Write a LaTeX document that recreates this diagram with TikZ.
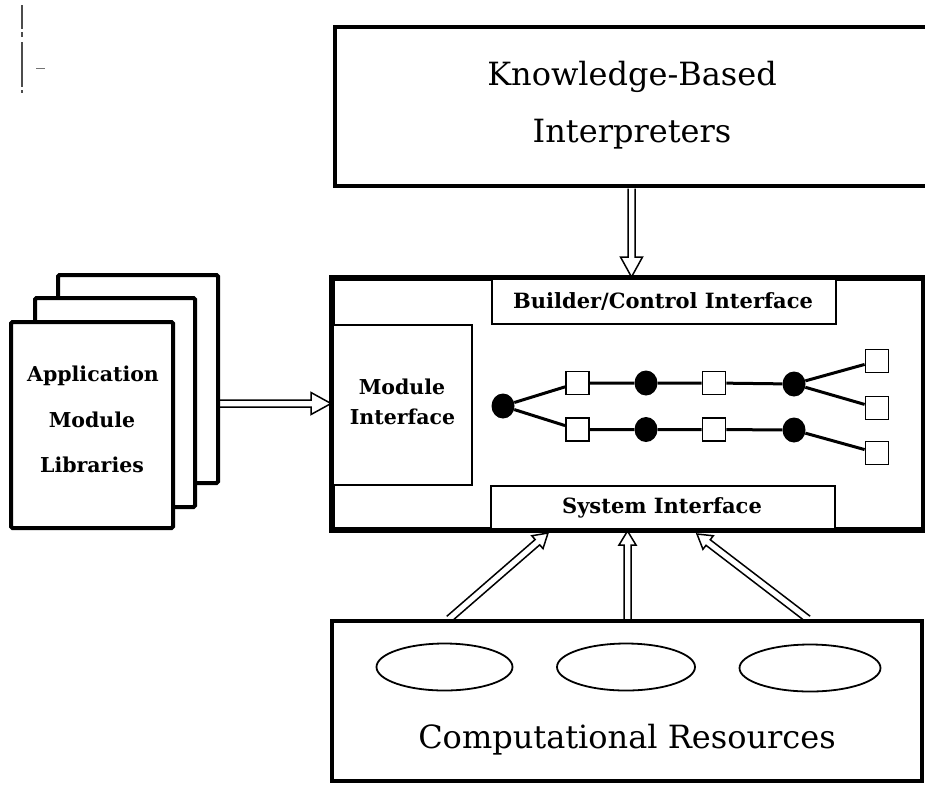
\documentclass[tikz,border=0pt]{standalone}
\usepackage{fontspec}
\setmainfont{DejaVu Serif}
\usetikzlibrary{calc,shapes.geometric}

\tikzset{
  heavybox/.style={draw, line width=4pt, fill=white, inner sep=0pt, rectangle},
  page/.style={heavybox, rounded corners=1.5pt},
  thinbox/.style={draw, line width=1.8pt, fill=white, inner sep=0pt, rectangle},
  resource/.style={draw, ellipse, line width=1.8pt, inner sep=0pt,
                   minimum width=138pt, minimum height=47pt},
  bigtext/.style={font=\fontsize{32}{38}\selectfont, inner sep=0pt, anchor=base},
  boldtext/.style={font=\bfseries\fontsize{20.5}{24}\selectfont, inner sep=0pt, anchor=base},
  bandtext/.style={font=\bfseries\fontsize{21}{25}\selectfont, inner sep=0pt, anchor=base},
  dot/.style={ellipse, fill=black, inner sep=0pt, minimum width=23pt, minimum height=25pt},
  sq/.style={draw, fill=white, line width=1.8pt, inner sep=0pt, minimum size=23pt},
  link/.style={line width=3pt},
  arrowline/.style={line width=1.5pt, line join=miter},
}

% hollow block arrow: #1 tail, #2 tip, #3 head half-width, #4 head length
\newcommand\blockarrow[4]{%
  \coordinate (hb) at ($(#2)!#4!(#1)$);
  \draw[arrowline]
    ($(#1)!3.5pt!90:(#2)$) -- ($(hb)!3.5pt!-90:(#1)$) -- ($(hb)!#3!-90:(#1)$)
    -- (#2) -- ($(hb)!#3!90:(#1)$) -- ($(hb)!3.5pt!90:(#1)$)
    -- ($(#1)!3.5pt!-90:(#2)$);
}

\begin{document}
\begin{tikzpicture}[x=1pt, y=-1pt]
\useasboundingbox (0,0) rectangle (925,785);

% margin marks
\draw[line width=1.3pt, black!70, dash pattern=on 24pt off 3pt on 5pt off 5pt on 45pt off 3pt] (22,5) -- (22,93);
\draw[line width=1pt, black!55] (36,68) -- (45,68);

% knowledge-based interpreters (runs off the right edge)
\node[heavybox, minimum width=605pt, minimum height=159pt] (kb) at (637.5,106.5) {};
\node[bigtext] (kbA) at (632,85) {Knowledge-Based};
\node[bigtext] (kbB) at (632,142) {Interpreters};

% stacked library pages
\node[page, minimum width=160pt, minimum height=208pt] (back) at (138,379) {};
\node[page, minimum width=160pt, minimum height=209pt] (midp) at (115,402.5) {};
\node[page, minimum width=162pt, minimum height=206pt] (front) at (92,425) {};
\node[boldtext] (libA) at (93,381) {Application};
\node[boldtext] (libB) at (92,427) {Module};
\node[boldtext] (libC) at (92,472) {Libraries};

% central framework box
\node[heavybox, minimum width=590pt, minimum height=250pt] (core) at (628,404) {};
\node[thinbox, minimum width=139pt, minimum height=160pt] (modif) at (402.5,405) {};
\node[boldtext] (modA) at (402,394) {Module};
\node[boldtext] (modB) at (402.5,424) {Interface};
\node[thinbox, minimum width=344pt, minimum height=45pt] (build) at (664,301.5) {};
\node[bandtext] (buildT) at (663,308) {Builder/Control Interface};
\node[thinbox, minimum width=344pt, minimum height=43pt] (sys) at (663,507.5) {};
\node[bandtext] (sysT) at (662,513) {System Interface};
\draw[line width=4pt] (core.north west) rectangle (core.south east);

% module network
\node[dot] (d0) at (503,406) {};
\node[sq] (s1) at (577.5,383) {};
\node[dot] (d1) at (646,383) {};
\node[sq] (s2) at (714,383) {};
\node[dot] (d2) at (794,384) {};
\node[sq] (s3) at (877,361) {};
\node[sq] (s4) at (877,408) {};
\node[sq] (t1) at (577.5,429.5) {};
\node[dot] (e1) at (646,429.5) {};
\node[sq] (t2) at (714,429.5) {};
\node[dot] (e2) at (794,430) {};
\node[sq] (t3) at (877,453) {};
\draw[link] (d0) -- (s1) -- (d1) -- (s2) -- (d2) -- (s3);
\draw[link] (d2) -- (s4);
\draw[link] (d0) -- (t1) -- (e1) -- (t2) -- (e2) -- (t3);

% computational resources
\node[heavybox, minimum width=590pt, minimum height=160pt] (res) at (627,701) {};
\node[resource, minimum width=136pt] (r1) at (444.5,667) {};
\node[resource] (r2) at (626,667) {};
\node[resource, minimum width=141pt] (r3) at (810,668) {};
\node[bigtext] (resT) at (627,748) {Computational Resources};

% connector end points on box borders
\coordinate (kbOut) at (631.5,188.5);
\coordinate (coreTop) at (631.5,277);
\coordinate (libOut) at (220,403.5);
\coordinate (coreLeft) at (331,403.5);
\coordinate (resL) at (449,619);
\coordinate (resM) at (627.5,619);
\coordinate (resR) at (808,619);
\coordinate (coreBL) at (548,533);
\coordinate (coreBM) at (627.5,531);
\coordinate (coreBR) at (697,534);

\blockarrow{kbOut}{coreTop}{11pt}{20pt}
\blockarrow{libOut}{coreLeft}{11pt}{20pt}
\blockarrow{resL}{coreBL}{8.5pt}{14pt}
\blockarrow{resM}{coreBM}{8.5pt}{14pt}
\blockarrow{resR}{coreBR}{8.5pt}{14pt}
\end{tikzpicture}
\end{document}
